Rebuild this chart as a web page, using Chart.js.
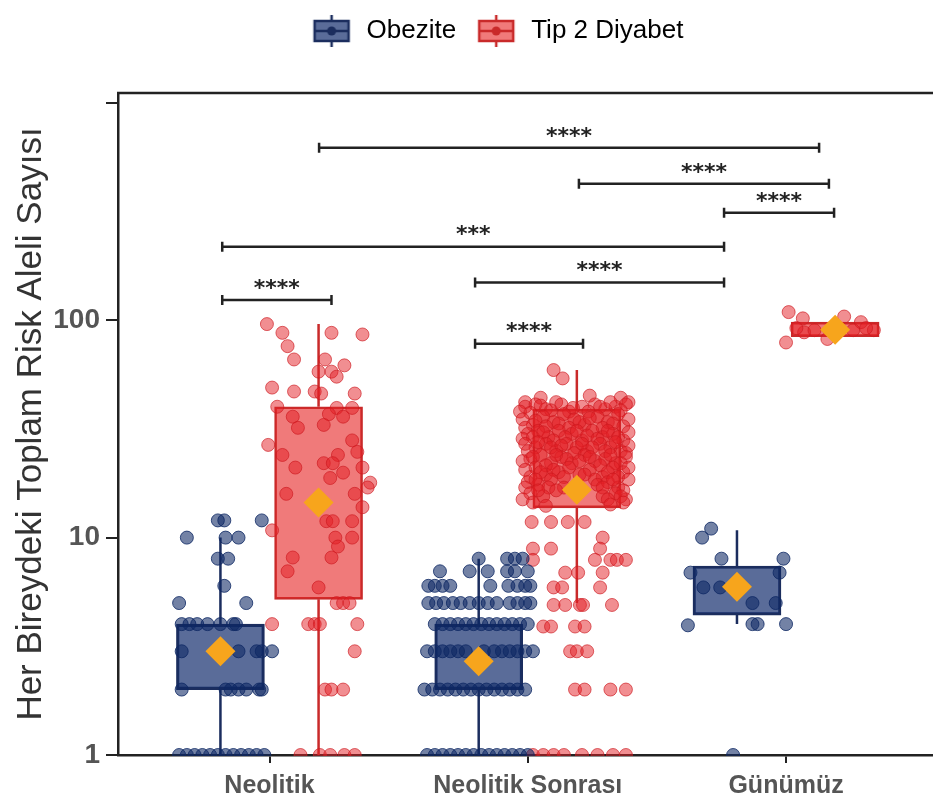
<!DOCTYPE html>
<html lang="tr">
<head>
<meta charset="UTF-8" />
<title>Risk Aleli Sayısı</title>
<script src="https://cdn.jsdelivr.net/npm/chart.js@4.4.0/dist/chart.umd.min.js"></script>
<style>
  html, body { margin: 0; padding: 0; background: #fff; }
</style>
</head>
<body>
<canvas id="chart" width="933" height="809"></canvas>
<script>
const categories = ['Neolitik', 'Neolitik Sonrası', 'Günümüz'];
const seriesNames = ['Obezite', 'Tip 2 Diyabet'];
const yTicks = [1, 10, 100, 1000];

// box stats per category
const obeziteQ1 = [2, 2, 4.4];
const obeziteQ3 = [4, 4, 7.4];
const obeziteLow = [1, 1, 4];
const obeziteHigh = [10, 8, 10.8];
const obeziteMean = [3, 2.7, 5.95];

const diyabetQ1 = [5.2, 13.7, 84];
const diyabetQ3 = [40, 39, 98];
const diyabetLow = [1, 5, 84];
const diyabetHigh = [96, 59, 98];
const diyabetMean = [14.5, 16.6, 90.5];

// individual points: [jitter, value]
const obeziteNeolitik = [
  [-0.01, 12], [0.015, 12], [0.16, 12],
  [-0.13, 10], [0.02, 10], [0.07, 10],
  [-0.01, 8], [0.03, 8], [0.015, 6], [-0.16, 5], [0.1, 5],
  [-0.15, 4], [-0.12, 4], [-0.09, 4], [-0.05, 4], [0, 4], [0.05, 4], [0.06, 4],
  [-0.15, 3], [0.07, 3], [0.14, 3], [0.16, 3], [0.2, 3],
  [-0.15, 2], [0.02, 2], [0.04, 2], [0.07, 2], [0.1, 2], [0.15, 2], [0.16, 2],
  [-0.16, 1], [-0.13, 1], [-0.1, 1], [-0.07, 1], [-0.04, 1], [-0.01, 1],
  [0.02, 1], [0.05, 1], [0.08, 1], [0.11, 1], [0.14, 1], [0.17, 1]
];
const obeziteSonrasi = [
  [0, 8], [0.11, 8], [0.14, 8], [0.17, 8],
  [-0.15, 7], [-0.035, 7], [0.035, 7], [0.11, 7], [0.14, 7], [0.19, 7],
  [-0.195, 6], [-0.17, 6], [-0.14, 6], [-0.11, 6], [0.045, 6], [0.115, 6], [0.15, 6], [0.18, 6], [0.2, 6],
  [-0.195, 5], [-0.165, 5], [-0.135, 5], [-0.1, 5], [-0.07, 5], [-0.035, 5], [0, 5],
  [0.035, 5], [0.07, 5], [0.12, 5], [0.15, 5], [0.18, 5], [0.2, 5],
  [-0.17, 4], [-0.14, 4], [-0.11, 4], [-0.08, 4], [-0.05, 4], [-0.02, 4], [0.01, 4],
  [0.04, 4], [0.07, 4], [0.1, 4], [0.13, 4], [0.16, 4], [0.19, 4],
  [-0.2, 3], [-0.17, 3], [-0.14, 3], [-0.11, 3], [-0.08, 3], [-0.05, 3], [0.02, 3],
  [0.06, 3], [0.09, 3], [0.12, 3], [0.15, 3], [0.18, 3], [0.21, 3],
  [-0.21, 2], [-0.18, 2], [-0.15, 2], [-0.12, 2], [-0.09, 2], [-0.06, 2], [-0.03, 2],
  [0, 2], [0.03, 2], [0.06, 2], [0.09, 2], [0.12, 2], [0.15, 2], [0.18, 2],
  [-0.2, 1], [-0.17, 1], [-0.14, 1], [-0.11, 1], [-0.08, 1], [-0.05, 1], [-0.02, 1],
  [0.01, 1], [0.04, 1], [0.07, 1], [0.1, 1], [0.13, 1], [0.16, 1], [0.19, 1]
];
const obeziteGunumuz = [
  [-0.135, 10], [-0.1, 11], [-0.06, 8], [0.18, 8], [-0.18, 6.9], [0.165, 6.9],
  [-0.13, 5.9], [-0.065, 5.9], [0.06, 5], [0.15, 5],
  [-0.19, 3.95], [0.06, 4], [0.08, 4], [0.19, 4], [-0.015, 1]
];

const diyabetNeolitik = [
  [-0.2, 96], [-0.14, 87.5], [-0.12, 76], [-0.095, 66], [0.05, 87.5], [0.17, 86],
  [0.025, 66], [0.1, 62], [0, 58], [0.05, 58], [0.07, 55], [-0.18, 49], [-0.095, 47],
  [-0.015, 47], [0.01, 46], [0.14, 46], [-0.16, 40], [0.07, 39.5], [0.13, 39.5],
  [-0.1, 36], [0.04, 37], [0.095, 36], [-0.08, 32], [0.02, 33], [-0.195, 26.7],
  [0.13, 28], [0.15, 24.8], [-0.14, 24], [0.075, 24], [0.02, 22], [0.055, 22],
  [-0.09, 21], [0.17, 21], [0.095, 19.9], [0.045, 18.8], [0.2, 17.9], [0.19, 17],
  [-0.125, 15.9], [0.14, 15.9], [0.17, 13.8], [0.03, 11.9], [0.055, 11.9], [0.13, 11.9],
  [-0.18, 10.8], [0.065, 10], [0.13, 10], [0.075, 9.1], [-0.1, 8.1], [0.05, 8.1],
  [-0.12, 7], [0, 5.9], [0.07, 5], [0.095, 5], [0.12, 5],
  [-0.18, 4], [-0.04, 4], [-0.015, 4], [0.005, 4], [0.15, 4], [0.14, 3],
  [0.025, 2], [0.05, 2], [0.095, 2],
  [-0.07, 1], [0.005, 1], [0.045, 1], [0.1, 1], [0.14, 1]
];
const diyabetSonrasi = [
  [-0.09, 59], [-0.055, 54], [-0.14, 44], [0.05, 45], [0.17, 44], [-0.2, 42], [0.2, 42],
  [-0.2, 40], [-0.16, 41], [-0.12, 39], [-0.08, 42], [-0.03, 38], [0.02, 40], [0.07, 41], [0.11, 39], [0.15, 40], [0.19, 41],
  [-0.22, 38], [-0.18, 37.5], [-0.14, 40.5], [-0.1, 38.5], [-0.06, 41], [-0.015, 39.5], [0.045, 38], [0.09, 40], [0.13, 42], [0.17, 38.5],
  [-0.21, 35], [-0.17, 33], [-0.13, 36], [-0.09, 34], [-0.05, 37], [-0.01, 35], [0.03, 33], [0.08, 36], [0.12, 34], [0.16, 37], [0.2, 35],
  [-0.2, 32], [-0.16, 34.5], [-0.12, 32.5], [-0.07, 33.5], [-0.03, 32], [0.01, 34], [0.05, 35.5], [0.1, 32], [0.14, 33.5], [0.18, 32.5],
  [-0.19, 30], [-0.15, 31], [-0.11, 29], [-0.07, 31], [-0.02, 30], [0.02, 28], [0.06, 31], [0.1, 29], [0.14, 30], [0.18, 28],
  [-0.21, 28.5], [-0.17, 29], [-0.13, 30.5], [-0.09, 28], [-0.045, 29], [0, 31], [0.04, 29.5], [0.08, 28.5], [0.12, 31], [0.16, 29], [0.2, 30.5],
  [-0.2, 27], [-0.16, 26], [-0.12, 27], [-0.08, 25], [-0.04, 27], [0, 26], [0.04, 25], [0.09, 27], [0.13, 26], [0.17, 25], [0.2, 26.5],
  [-0.19, 25], [-0.15, 27.5], [-0.1, 26], [-0.06, 26.5], [-0.01, 24.5], [0.02, 27], [0.06, 26], [0.11, 25], [0.15, 27.5], [0.19, 24.5],
  [-0.18, 23], [-0.14, 24], [-0.1, 22], [-0.06, 23.5], [-0.02, 22], [0.03, 24], [0.07, 22.5], [0.11, 23], [0.15, 22], [0.19, 23.5],
  [-0.21, 22.5], [-0.17, 23.5], [-0.12, 21.5], [-0.08, 24], [-0.04, 23], [0.01, 22.5], [0.05, 23.5], [0.09, 21.5], [0.13, 24], [0.17, 22],
  [-0.2, 20.5], [-0.16, 21], [-0.12, 19.5], [-0.07, 20], [-0.03, 21], [0.01, 19.5], [0.05, 20.5], [0.1, 19], [0.14, 21], [0.18, 20],
  [-0.18, 19], [-0.14, 20], [-0.09, 20.5], [-0.05, 19], [0.03, 19.5], [0.07, 18.5], [0.12, 20], [0.16, 19], [0.2, 21],
  [-0.19, 18], [-0.15, 17.5], [-0.1, 18.5], [-0.05, 17], [0.08, 17.5], [0.12, 18], [0.16, 17], [0.2, 18.5],
  [-0.2, 17], [-0.16, 18.5], [-0.11, 17], [0.1, 17], [0.14, 18.5], [0.18, 16.5],
  [-0.18, 16], [-0.13, 15.5], [-0.08, 16.5], [0.1, 15.5], [0.15, 16], [0.19, 15],
  [-0.21, 15], [-0.15, 16.5], [0.12, 15], [0.17, 15.5],
  [-0.17, 14.5], [-0.12, 14], [0.13, 14.2], [0.18, 14.5],
  [-0.175, 11.8], [-0.1, 11.8], [-0.035, 11.8], [0.03, 11.8], [0.1, 10],
  [-0.17, 8.9], [-0.1, 8.9], [0.09, 8.9],
  [-0.17, 7.9], [0.07, 7.9], [0.13, 7.9], [0.155, 7.9], [0.19, 7.9],
  [-0.045, 6.9], [0.005, 6.9], [0.1, 6.9],
  [-0.09, 5.9], [-0.057, 5.9], [0.09, 5.9],
  [-0.09, 4.9], [-0.045, 4.9], [0.012, 4.9], [0.024, 4.9], [0.136, 4.9],
  [-0.13, 3.9], [-0.1, 3.9], [-0.007, 3.9], [0.03, 3.9],
  [-0.026, 3], [0, 3], [0.04, 3],
  [-0.007, 2], [0.03, 2], [0.13, 2], [0.19, 2],
  [-0.17, 1], [-0.13, 1], [-0.09, 1], [-0.05, 1], [0.02, 1], [0.08, 1], [0.14, 1], [0.19, 1]
];
const diyabetGunumuz = [
  [-0.18, 109], [-0.125, 102], [0.035, 104], [0.1, 98], [-0.19, 79], [-0.12, 88],
  [-0.03, 82], [0.15, 90], [-0.08, 90], [0.07, 90], [0.12, 92], [-0.15, 92], [0, 95]
];

// significance brackets
const bracketStart = [1.192, 2.198, 2.76, 0.817, 1.796, 0.817, 1.796];
const bracketEnd = [3.128, 3.166, 3.186, 2.76, 2.76, 1.24, 2.214];
const bracketLevel = [621, 424, 312, 218, 149, 124, 78];
const bracketLabels = ['****', '****', '****', '***', '****', '****', '****'];

const dodge = 0.19;
const FONT = "'Liberation Sans', Arial, sans-serif";
Chart.defaults.font.family = FONT;

const blue = { fill: 'rgba(20,45,110,0.7)', line: '#1b2d5e', pt: 'rgba(14,40,100,0.58)', ptLine: 'rgba(14,40,100,0.8)' };
const red = { fill: 'rgba(230,40,40,0.62)', line: '#c92a2a', pt: 'rgba(228,30,36,0.5)', ptLine: 'rgba(205,25,30,0.65)' };

function jitter(groups, sign) {
  return groups.flatMap((pts, i) => pts.map(([dx, v]) => ({ x: i + 1 + sign * dodge + dx, y: v })));
}

function legendIcon(c) {
  const cv = document.createElement('canvas');
  cv.width = 40; cv.height = 34;
  const g = cv.getContext('2d');
  g.strokeStyle = c.line; g.lineWidth = 2.5;
  g.beginPath(); g.moveTo(20, 1); g.lineTo(20, 33); g.stroke();
  g.fillStyle = '#fff'; g.fillRect(3, 7, 34, 20);
  g.fillStyle = c.fill; g.fillRect(3, 7, 34, 20);
  g.strokeRect(3, 7, 34, 20);
  g.beginPath(); g.moveTo(3, 17); g.lineTo(37, 17); g.stroke();
  g.fillStyle = c.line; g.beginPath(); g.arc(20, 17, 4.5, 0, Math.PI * 2); g.fill();
  return cv;
}

const boxes = [
  { color: blue, sign: -1, q1: obeziteQ1, q3: obeziteQ3, low: obeziteLow, high: obeziteHigh },
  { color: red, sign: 1, q1: diyabetQ1, q3: diyabetQ3, low: diyabetLow, high: diyabetHigh }
];

const whiskerPlugin = {
  id: 'whiskers',
  beforeDatasetsDraw(chart) {
    const { ctx, scales: { x, y } } = chart;
    ctx.save();
    ctx.lineWidth = 2.5;
    boxes.forEach(b => {
      ctx.strokeStyle = b.color.line;
      categories.forEach((c, i) => {
        const px = x.getPixelForValue(i + 1 + b.sign * dodge);
        ctx.beginPath();
        ctx.moveTo(px, y.getPixelForValue(b.low[i]));
        ctx.lineTo(px, y.getPixelForValue(b.q1[i]));
        ctx.moveTo(px, y.getPixelForValue(b.q3[i]));
        ctx.lineTo(px, y.getPixelForValue(b.high[i]));
        ctx.stroke();
      });
    });
    ctx.restore();
  },
  afterDatasetsDraw(chart) {
    const { ctx, chartArea, scales: { x, y } } = chart;
    ctx.save();
    ctx.strokeStyle = '#222';
    ctx.lineWidth = 2.5;
    ctx.beginPath();
    ctx.moveTo(chartArea.left - 1, chartArea.top);
    ctx.lineTo(chartArea.right, chartArea.top);
    ctx.stroke();
    ctx.fillStyle = '#222';
    ctx.font = "bold 22px 'DejaVu Sans', sans-serif";
    ctx.textAlign = 'center';
    ctx.textBaseline = 'middle';
    bracketLabels.forEach((lab, i) => {
      const x1 = x.getPixelForValue(bracketStart[i]);
      const x2 = x.getPixelForValue(bracketEnd[i]);
      const py = y.getPixelForValue(bracketLevel[i]);
      ctx.beginPath();
      ctx.moveTo(x1, py); ctx.lineTo(x2, py);
      ctx.moveTo(x1, py - 5); ctx.lineTo(x1, py + 5);
      ctx.moveTo(x2, py - 5); ctx.lineTo(x2, py + 5);
      ctx.stroke();
      ctx.fillText(lab, (x1 + x2) / 2, py - 11);
    });
    ctx.restore();
  },
  afterInit(chart) {
    const legend = chart.legend;
    const fit = legend.fit;
    legend.fit = function () { fit.call(this); this.height = 93; };
  },
  afterLayout(chart) {
    chart.legend.left += 30;
    chart.legend.right += 30;
  }
};

const icons = [legendIcon(blue), legendIcon(red)];

new Chart(document.getElementById('chart'), {
  type: 'scatter',
  data: {
    datasets: [
      {
        type: 'scatter', label: 'Ortalama', order: 1,
        data: categories.flatMap((c, i) => [
          { x: i + 1 - dodge, y: obeziteMean[i] },
          { x: i + 1 + dodge, y: diyabetMean[i] }
        ]),
        pointStyle: 'rectRot', pointRadius: 15, backgroundColor: '#f7a51c', borderWidth: 0
      },
      {
        type: 'scatter', label: seriesNames[0] + ' noktalar', order: 2,
        data: jitter([obeziteNeolitik, obeziteSonrasi, obeziteGunumuz], -1),
        pointRadius: 6.5, backgroundColor: blue.pt, borderColor: blue.ptLine, borderWidth: 1,
        clip: { left: 20, right: 20, top: 20, bottom: 1 }
      },
      {
        type: 'scatter', label: seriesNames[1] + ' noktalar', order: 2,
        data: jitter([diyabetNeolitik, diyabetSonrasi, diyabetGunumuz], 1),
        pointRadius: 6.5, backgroundColor: red.pt, borderColor: red.ptLine, borderWidth: 1,
        clip: { left: 20, right: 20, top: 20, bottom: 1 }
      },
      {
        type: 'bar', label: seriesNames[0], order: 3, grouped: false,
        data: categories.map((c, i) => ({ x: i + 1 - dodge, y: [obeziteQ1[i], obeziteQ3[i]] })),
        backgroundColor: blue.fill, borderColor: blue.line, borderWidth: 2.5,
        borderSkipped: false, barThickness: 88
      },
      {
        type: 'bar', label: seriesNames[1], order: 3, grouped: false,
        data: categories.map((c, i) => ({ x: i + 1 + dodge, y: [diyabetQ1[i], diyabetQ3[i]] })),
        backgroundColor: red.fill, borderColor: red.line, borderWidth: 2,
        borderSkipped: false, barThickness: 88
      }
    ]
  },
  options: {
    responsive: false,
    animation: false,
    layout: { padding: 0, autoPadding: false },
    plugins: {
      tooltip: { enabled: false },
      legend: {
        position: 'top',
        labels: {
          usePointStyle: true,
          pointStyleWidth: 44,
          padding: 18,
          color: '#222',
          font: { size: 26 },
          generateLabels: () => seriesNames.map((n, i) => ({
            text: n, pointStyle: icons[i], fillStyle: 'transparent',
            strokeStyle: 'transparent', lineWidth: 0, datasetIndex: 3 + i, hidden: false
          }))
        }
      }
    },
    scales: {
      x: {
        type: 'linear', min: 0.4134, max: 3.569, offset: false,
        afterBuildTicks: s => { s.ticks = categories.map((c, i) => ({ value: i + 1 })); },
        afterFit: s => { s.height = 54; s.paddingLeft = 0; s.paddingRight = 0; },
        ticks: {
          callback: v => categories[v - 1],
          font: { size: 25, weight: 'bold' }, color: '#555', padding: 8,
          maxRotation: 0, autoSkip: false
        },
        grid: { offset: false, drawOnChartArea: false, tickLength: 8, color: '#222', lineWidth: 2 },
        border: { color: '#222', width: 2.5 }
      },
      y: {
        type: 'logarithmic', min: 1, max: 1110,
        afterBuildTicks: s => { s.ticks = yTicks.map(v => ({ value: v })); },
        afterFit: s => { s.width = 118; },
        ticks: {
          callback: v => (v === 1000 ? '' : String(v)),
          font: { size: 28, weight: 'bold' }, color: '#555', padding: 6
        },
        grid: { drawOnChartArea: false, tickLength: 12, color: '#222', lineWidth: 2 },
        border: { color: '#222', width: 2.5 },
        title: {
          display: true, text: 'Her Bireydeki Toplam Risk Aleli Sayısı',
          font: { size: 35 }, color: '#333', padding: { top: 10, bottom: 0 }
        }
      }
    }
  },
  plugins: [whiskerPlugin]
});
</script>
</body>
</html>
